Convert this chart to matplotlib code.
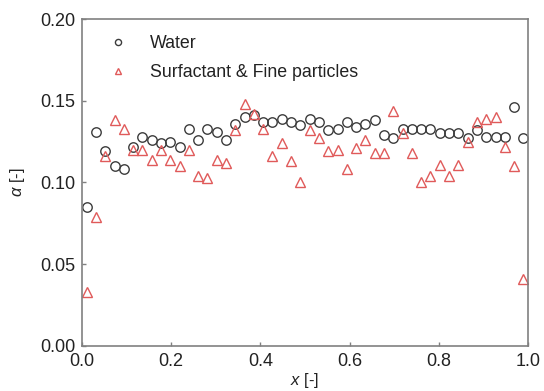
import numpy as np
import matplotlib
matplotlib.use("Agg")
from matplotlib import pyplot as plt

plt.rcParams['font.family'] = ['Liberation Sans', 'DejaVu Sans']
plt.rcParams['mathtext.fontset'] = 'custom'
plt.rcParams['mathtext.it'] = 'Liberation Sans:italic'
plt.rcParams['mathtext.rm'] = 'Liberation Sans'

# 48 bins across the channel, bin centres
x = (np.arange(48) + 0.5) / 48

water = [0.085, 0.131, 0.119, 0.110, 0.108, 0.122, 0.128, 0.126, 0.124, 0.125,
         0.122, 0.133, 0.126, 0.133, 0.131, 0.126, 0.136, 0.140, 0.141, 0.137,
         0.137, 0.139, 0.137, 0.135, 0.139, 0.137, 0.132, 0.133, 0.137, 0.134,
         0.136, 0.138, 0.129, 0.127, 0.133, 0.133, 0.133, 0.133, 0.130, 0.130,
         0.130, 0.127, 0.132, 0.128, 0.128, 0.128, 0.146, 0.127]

surf = [0.033, 0.079, 0.116, 0.138, 0.133, 0.120, 0.120, 0.114, 0.120, 0.114,
        0.110, 0.120, 0.104, 0.103, 0.114, 0.112, 0.132, 0.148, 0.142, 0.133,
        0.116, 0.124, 0.113, 0.100, 0.132, 0.127, 0.119, 0.120, 0.108, 0.121,
        0.126, 0.118, 0.118, 0.144, 0.130, 0.118, 0.100, 0.104, 0.111, 0.104,
        0.111, 0.125, 0.137, 0.139, 0.140, 0.122, 0.110, 0.041]

fig = plt.figure(figsize=(5.44, 3.91), dpi=100)
ax = fig.add_axes([0.1507, 0.1151, 0.82, 0.8363])

ax.plot(x, water, 'o', ms=6.8, mfc='none', mec='#3c3c3c', mew=1.0, label='Water')
ax.plot(x, surf, '^', ms=6.8, mfc='none', mec='#e05a5a', mew=1.0,
        label='Surfactant & Fine particles')

ax.set_xlim(0, 1.0)
ax.set_ylim(0, 0.20)
ax.set_xticks([0.0, 0.2, 0.4, 0.6, 0.8, 1.0])
ax.set_yticks([0.00, 0.05, 0.10, 0.15, 0.20])
ax.xaxis.set_major_formatter(matplotlib.ticker.FormatStrFormatter('%.1f'))
ax.yaxis.set_major_formatter(matplotlib.ticker.FormatStrFormatter('%.2f'))

for s in ax.spines.values():
    s.set_color('#808080')
    s.set_linewidth(1.2)
ax.tick_params(direction='in', length=3, width=1, color='#808080',
               labelsize=13, pad=5, labelcolor='#222222')

ax.set_xlabel(r'$x$ [-]', fontsize=12, labelpad=1, color='#222222')
ax.set_ylabel(r'$\alpha$ [-]', fontsize=12, labelpad=9, color='#222222')

ax.legend(loc='upper left', frameon=False, fontsize=12.8, markerscale=0.65,
          handletextpad=0.8, borderaxespad=0.4, labelspacing=0.7,
          bbox_to_anchor=(0.009, 0.995), labelcolor='#222222')

fig.savefig('out.png', dpi=100)
